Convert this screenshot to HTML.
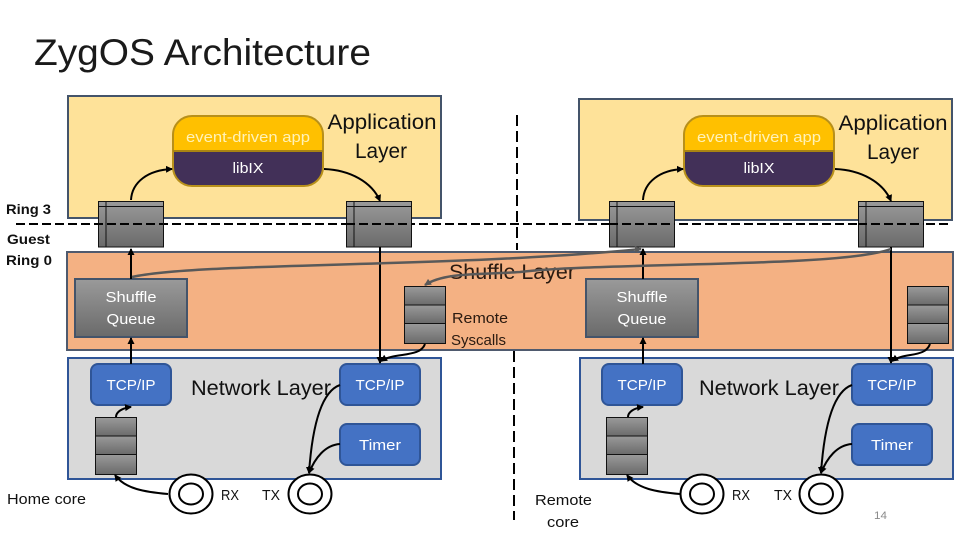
<!DOCTYPE html>
<html><head><meta charset="utf-8"><style>
html,body{margin:0;padding:0;background:#fff;width:960px;height:540px;overflow:hidden}
svg{display:block}
text{font-family:"Liberation Sans",sans-serif}
</style></head><body>
<svg width="960" height="540" viewBox="0 0 960 540" xmlns="http://www.w3.org/2000/svg">
<defs>
<linearGradient id="g" x1="0" y1="0" x2="0" y2="1"><stop offset="0" stop-color="#9a9a9a"/><stop offset="1" stop-color="#6a6a6a"/></linearGradient>
<marker id="a" markerWidth="8" markerHeight="8" refX="6" refY="4" orient="auto" markerUnits="userSpaceOnUse"><path d="M0,0.5 L7,4 L0,7.5 Z" fill="#000"/></marker>
<marker id="b" markerWidth="8" markerHeight="8" refX="6" refY="4" orient="auto" markerUnits="userSpaceOnUse"><path d="M0,0.5 L7,4 L0,7.5 Z" fill="#595959"/></marker>
<g id="q"><rect x="0.5" y="0.5" width="65" height="45.500" fill="url(#g)" stroke="#111" stroke-width="1"/><path d="M8,0.5V46M0.5,5.500H65.500" stroke="#111" stroke-width="1" fill="none"/></g>
<g id="s"><rect x="0.5" y="0.5" width="41" height="57" fill="#888" stroke="#111"/><rect x="0.5" y="0.5" width="41" height="19" fill="url(#g)" stroke="#111"/><rect x="0.5" y="19" width="41" height="18.500" fill="url(#g)" stroke="#111"/><rect x="0.5" y="37.500" width="41" height="20" fill="url(#g)" stroke="#111"/></g>
<g id="r"><ellipse cx="0" cy="0" rx="21.500" ry="19.500" fill="#fff" stroke="#000" stroke-width="2"/><ellipse cx="0" cy="0" rx="12" ry="10.500" fill="#fff" stroke="#000" stroke-width="2"/></g>
<g id="pill">
<rect x="0" y="0" width="150" height="70" rx="19" fill="#423058"/>
<path d="M0,35V19A19,19 0 0 1 19,0H131A19,19 0 0 1 150,19V35Z" fill="#ffc000"/>
<rect x="0" y="0" width="150" height="70" rx="19" fill="none" stroke="#b8901a" stroke-width="2"/>
<path d="M0,35H150" stroke="#a98412" stroke-width="2"/>
<text x="75" y="26" font-size="14.500" fill="#fff2b8" text-anchor="middle" textLength="124" lengthAdjust="spacingAndGlyphs">event-driven app</text>
<text x="75" y="57" font-size="14.500" fill="#fff" text-anchor="middle" textLength="31" lengthAdjust="spacingAndGlyphs">libIX</text>
</g>
<g id="sq"><rect x="0" y="0" width="112" height="58" fill="url(#g)" stroke="#44546a" stroke-width="2"/>
<text x="56" y="23" font-size="14.500" fill="#fff" text-anchor="middle" textLength="51" lengthAdjust="spacingAndGlyphs">Shuffle</text>
<text x="56" y="45" font-size="14.500" fill="#fff" text-anchor="middle" textLength="49" lengthAdjust="spacingAndGlyphs">Queue</text></g>
<g id="tcp"><rect x="0" y="0" width="80" height="41" rx="7" fill="#4472c4" stroke="#2f5597" stroke-width="2"/><text x="40" y="26" font-size="14.500" fill="#fff" text-anchor="middle" textLength="49" lengthAdjust="spacingAndGlyphs">TCP/IP</text></g>
<g id="tim"><rect x="0" y="0" width="80" height="41" rx="7" fill="#4472c4" stroke="#2f5597" stroke-width="2"/><text x="40" y="26" font-size="14.500" fill="#fff" text-anchor="middle" textLength="42" lengthAdjust="spacingAndGlyphs">Timer</text></g>
</defs>

<text x="34" y="65" font-size="37" fill="#1a1a1a" textLength="337" lengthAdjust="spacingAndGlyphs" style="font-weight:normal">ZygOS Architecture</text>

<!-- layers -->
<rect x="68" y="96" width="373" height="122" fill="#fee299" stroke="#44546a" stroke-width="2"/>
<rect x="579" y="99" width="373" height="121" fill="#fee299" stroke="#44546a" stroke-width="2"/>
<rect x="67" y="252" width="886" height="98" fill="#f4b183" stroke="#4f5a6e" stroke-width="2"/>
<rect x="68" y="358" width="373" height="121" fill="#d9d9d9" stroke="#2f5597" stroke-width="2"/>
<rect x="580" y="358" width="373" height="121" fill="#d9d9d9" stroke="#2f5597" stroke-width="2"/>

<!-- layer labels -->
<text x="382" y="129" font-size="21" fill="#111" text-anchor="middle" textLength="109" lengthAdjust="spacingAndGlyphs">Application</text>
<text x="381" y="158" font-size="21" fill="#111" text-anchor="middle" textLength="52" lengthAdjust="spacingAndGlyphs">Layer</text>
<text x="893" y="130" font-size="21" fill="#111" text-anchor="middle" textLength="109" lengthAdjust="spacingAndGlyphs">Application</text>
<text x="893" y="159" font-size="21" fill="#111" text-anchor="middle" textLength="52" lengthAdjust="spacingAndGlyphs">Layer</text>
<text x="449" y="279" font-size="21" fill="#2a1a10" textLength="126" lengthAdjust="spacingAndGlyphs">Shuffle Layer</text>
<text x="191" y="395" font-size="21" fill="#111" textLength="140" lengthAdjust="spacingAndGlyphs">Network Layer</text>
<text x="699" y="395" font-size="21" fill="#111" textLength="140" lengthAdjust="spacingAndGlyphs">Network Layer</text>

<use href="#pill" x="173" y="116"/>
<use href="#pill" x="684" y="116"/>

<!-- boundary lines -->
<path d="M16,224H950" stroke="#000" stroke-width="2" stroke-dasharray="9 4" fill="none"/>
<path d="M517,115V250" stroke="#000" stroke-width="2" stroke-dasharray="11 5" fill="none"/>
<path d="M514,351V520" stroke="#000" stroke-width="2" stroke-dasharray="11 5" fill="none"/>

<!-- queues -->
<use href="#q" x="98" y="201"/>
<use href="#q" x="346" y="201"/>
<use href="#q" x="609" y="201"/>
<use href="#q" x="858" y="201"/>
<path d="M16,224H163M346,224H412M609,224H675M858,224H924" stroke="#000" stroke-width="2" stroke-dasharray="9 4" fill="none"/>

<use href="#sq" x="75" y="279"/>
<use href="#sq" x="586" y="279"/>
<use href="#s" x="404" y="286"/>
<use href="#s" x="907" y="286"/>
<use href="#s" x="95" y="417"/>
<use href="#s" x="606" y="417"/>

<use href="#tcp" x="91" y="364"/>
<use href="#tcp" x="340" y="364"/>
<use href="#tim" x="340" y="424"/>
<use href="#tcp" x="602" y="364"/>
<use href="#tcp" x="852" y="364"/>
<use href="#tim" x="852" y="424"/>

<use href="#r" x="191" y="494"/>
<use href="#r" x="310" y="494"/>
<use href="#r" x="702" y="494"/>
<use href="#r" x="821" y="494"/>

<!-- connectors -->
<g fill="none" stroke="#000" stroke-width="2" marker-end="url(#a)">
<path d="M131,200C132,182 148,170 172,169"/>
<path d="M324,169C350,170 372,182 380,201"/>
<path d="M643,200C644,182 660,170 683,169"/>
<path d="M835,169C861,170 883,182 891,201"/>
<path d="M131,279V249"/>
<path d="M643,279V249"/>
<path d="M131,364V338"/>
<path d="M643,364V338"/>
<path d="M380,247V363"/>
<path d="M891,247V363"/>
<path d="M425,344C420,358 395,352 381,361"/>
<path d="M930,344C925,358 905,352 892,361"/>
<path d="M116,417C116,412 122,408 131,407"/>
<path d="M628,417C628,412 634,408 643,407"/>
<path d="M168,494C145,492 125,489 115,475"/>
<path d="M680,494C657,492 637,489 627,475"/>
<path d="M340,385C320,392 312,430 309,473"/>
<path d="M852,385C832,392 824,430 821,473"/>
<path d="M340,444C325,445 315,458 309,473"/>
<path d="M852,444C837,445 827,458 821,473"/>
</g>
<g fill="none" stroke="#595959" stroke-width="2.500">
<path d="M132,277C200,262 450,268 641,249" marker-end="url(#b)"/>
<path d="M891,249C840,268 600,262 520,272C480,275 445,272 425,285" marker-end="url(#b)"/>
</g>

<!-- side labels -->
<g font-size="14.500" fill="#111">
<text x="6" y="214" font-weight="bold" font-size="14" textLength="45" lengthAdjust="spacingAndGlyphs">Ring 3</text>
<text x="7" y="244" font-weight="bold" font-size="14" textLength="43" lengthAdjust="spacingAndGlyphs">Guest</text>
<text x="6" y="265" font-weight="bold" font-size="14" textLength="46" lengthAdjust="spacingAndGlyphs">Ring 0</text>
<text x="7" y="504" textLength="79" lengthAdjust="spacingAndGlyphs">Home core</text>
<text x="535" y="505" textLength="57" lengthAdjust="spacingAndGlyphs">Remote</text>
<text x="547" y="527" textLength="32" lengthAdjust="spacingAndGlyphs">core</text>
<text x="452" y="323" fill="#2a1a10" textLength="56" lengthAdjust="spacingAndGlyphs">Remote</text>
<text x="451" y="345" fill="#2a1a10" textLength="55" lengthAdjust="spacingAndGlyphs">Syscalls</text>
<text x="221" y="500" textLength="18" lengthAdjust="spacingAndGlyphs">RX</text>
<text x="262" y="500" textLength="18" lengthAdjust="spacingAndGlyphs">TX</text>
<text x="732" y="500" textLength="18" lengthAdjust="spacingAndGlyphs">RX</text>
<text x="774" y="500" textLength="18" lengthAdjust="spacingAndGlyphs">TX</text>
</g>
<text x="874" y="519" font-size="11" fill="#8a8a8a" textLength="13" lengthAdjust="spacingAndGlyphs">14</text>
</svg>
</body></html>
